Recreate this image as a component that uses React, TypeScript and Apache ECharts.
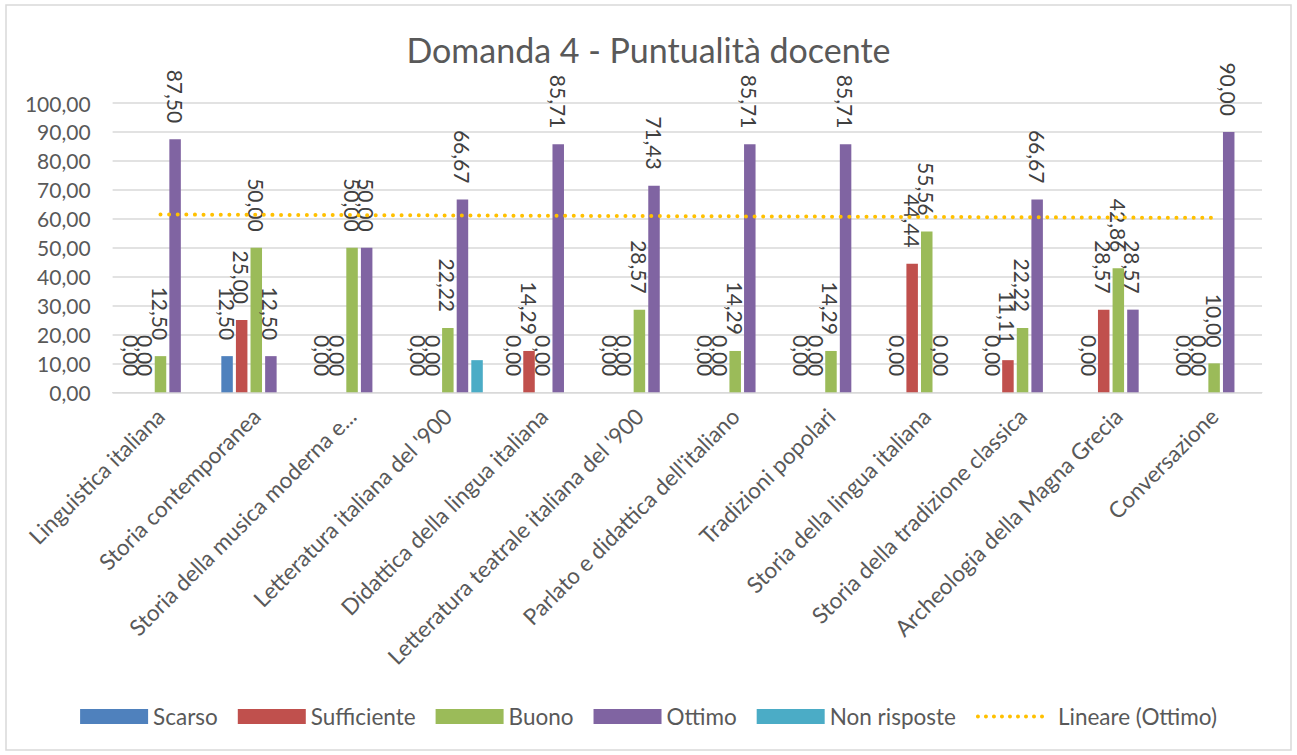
import React, { useEffect, useRef } from "react";
import * as echarts from "echarts";

const categories = [
  "Linguistica italiana",
  "Storia contemporanea",
  "Storia della musica moderna e...",
  "Letteratura italiana del '900",
  "Didattica della lingua italiana",
  "Letteratura teatrale italiana del '900",
  "Parlato e didattica dell'italiano",
  "Tradizioni popolari",
  "Storia della lingua italiana",
  "Storia della tradizione classica",
  "Archeologia della Magna Grecia",
  "Conversazione",
];

const scarso = [0, 12.5, 0, 0, 0, 0, 0, 0, 0, 0, 0, 0];
const sufficiente = [0, 25, 0, 0, 14.29, 0, 0, 0, 44.44, 11.11, 28.57, 0];
const buono = [12.5, 50, 50, 22.22, 0, 28.57, 14.29, 14.29, 55.56, 22.22, 42.86, 10];
const ottimo = [87.5, 12.5, 50, 66.67, 85.71, 71.43, 85.71, 85.71, 0, 66.67, 28.57, 90];
const nonRisposte = [null, null, null, 11.11, null, null, null, null, null, null, null, null];

const seriesNames = ["Scarso", "Sufficiente", "Buono", "Ottimo", "Non risposte"];
const seriesColors = ["#4F81BD", "#C0504D", "#9BBB59", "#8064A2", "#4BACC6"];
const trendName = "Lineare (Ottimo)";

const FONT = "Lato";
const TEXT = "#595959";

function linearTrend(values: number[]) {
  const n = values.length;
  const xs = values.map((_, i) => i + 1);
  const mx = xs.reduce((a, b) => a + b, 0) / n;
  const my = values.reduce((a, b) => a + b, 0) / n;
  let sxy = 0;
  let sxx = 0;
  for (let i = 0; i < n; i++) {
    sxy += (xs[i] - mx) * (values[i] - my);
    sxx += (xs[i] - mx) * (xs[i] - mx);
  }
  const slope = sxy / sxx;
  return xs.map((x) => my + slope * (x - mx));
}

const fmt = (v: number) => v.toFixed(2).replace(".", ",");

export default function App() {
  const ref = useRef<HTMLDivElement>(null);
  useEffect(() => {
    if (!ref.current) return;
    const chart = echarts.init(ref.current, undefined, { renderer: "svg" });
    const data = [scarso, sufficiente, buono, ottimo, nonRisposte];
    const barSeries = data.map((d, i) => ({
      name: seriesNames[i],
      type: "bar",
      data: d,
      barGap: "27%",
      barCategoryGap: "27%",
      itemStyle: { color: seriesColors[i] },
      label: {
        show: i !== 4,
        position: "top",
        rotate: -90,
        align: "right",
        verticalAlign: "middle",
        distance: 16,
        fontFamily: FONT,
        fontSize: 21,
        color: "#404040",
        formatter: (p: any) => fmt(p.value),
      },
    }));
    const trend = linearTrend(ottimo);
    chart.setOption({
      animation: false,
      backgroundColor: "#fff",
      title: {
        text: "Domanda 4 - Puntualità docente",
        left: "center",
        top: 27,
        textStyle: { fontFamily: FONT, fontSize: 34, fontWeight: "normal", color: TEXT },
      },
      grid: { left: 112.6, right: 35, top: 103, bottom: 362.7, containLabel: false },
      legend: {
        bottom: 22,
        left: "center",
        itemWidth: 68,
        itemHeight: 15,
        itemGap: 20,
        textStyle: { fontFamily: FONT, fontSize: 22.5, color: TEXT },
        data: [
          ...seriesNames.map((n) => ({ name: n, icon: "rect" })),
          {
            name: trendName,
            itemStyle: { opacity: 0 },
            lineStyle: { color: "#FFC000", width: 4, type: [0.01, 8], cap: "round" },
            textStyle: { padding: [0, 0, 0, 7] },
          },
        ],
      },
      xAxis: {
        type: "category",
        data: categories,
        axisTick: { show: false },
        axisLine: { lineStyle: { color: "#d9d9d9" } },
        axisLabel: {
          rotate: 45,
          interval: 0,
          margin: 20,
          fontFamily: FONT,
          fontSize: 22.5,
          color: TEXT,
        },
      },
      yAxis: {
        type: "value",
        min: 0,
        max: 100,
        interval: 10,
        axisLine: { show: false },
        axisTick: { show: false },
        splitLine: { lineStyle: { color: "#d9d9d9", width: 1.5 } },
        axisLabel: {
          margin: 22,
          fontFamily: FONT,
          fontSize: 21,
          color: TEXT,
          formatter: (v: number) => fmt(v),
        },
      },
      series: [
        ...barSeries,
        {
          name: trendName,
          type: "line",
          data: trend,
          symbol: "none",
          z: 5,
          lineStyle: { color: "#FFC000", width: 4, type: [0.01, 8.6], cap: "round" },
          itemStyle: { color: "#FFC000" },
        },
      ],
      graphic: [
        {
          type: "rect",
          shape: { x: 6, y: 5, width: 1285, height: 745 },
          style: { fill: "none", stroke: "#d9d9d9", lineWidth: 1.5 },
          silent: true,
        },
      ],
    });
    return () => chart.dispose();
  }, []);
  return (
    <div
      ref={ref}
      style={{ position: "absolute", left: 0, top: 0, width: 1297, height: 755 }}
    />
  );
}
